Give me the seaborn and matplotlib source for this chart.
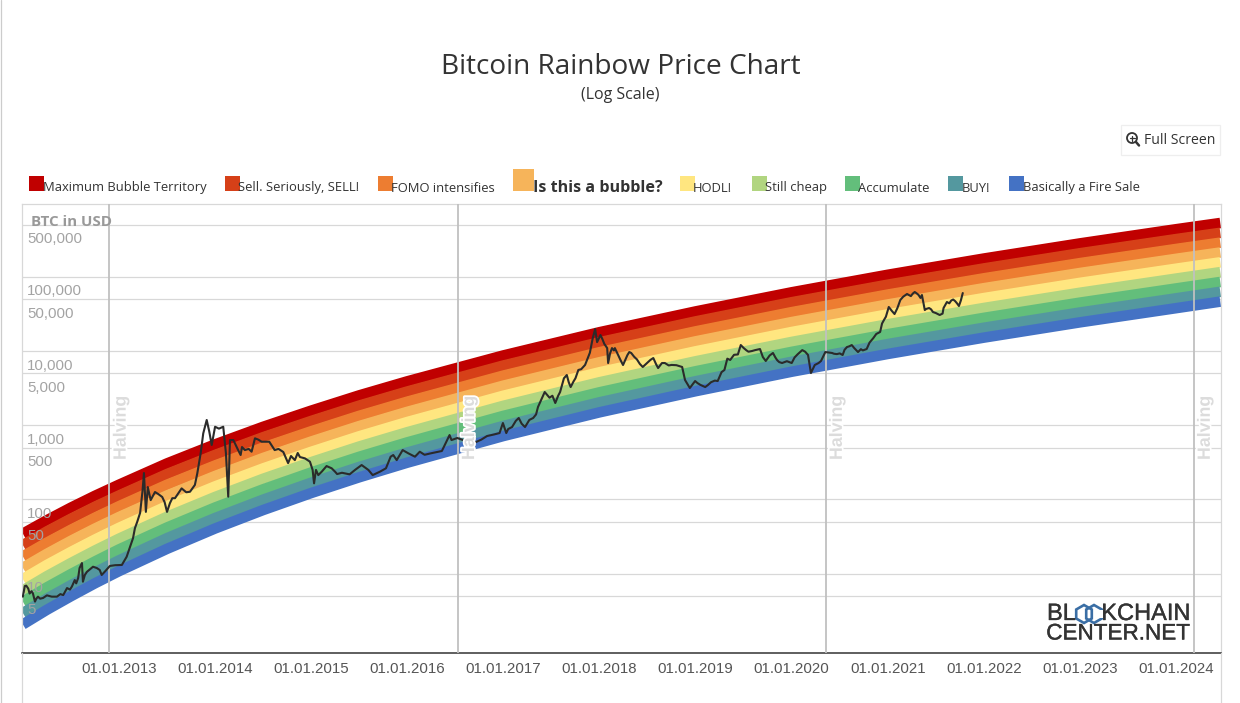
import matplotlib
matplotlib.use('Agg')
import matplotlib.pyplot as plt
from matplotlib.patches import Circle, Rectangle, RegularPolygon
from matplotlib.transforms import ScaledTranslation
import matplotlib.patheffects as pe
import pandas as pd
import seaborn as sns

band_names = ['Maximum Bubble Territory', 'Sell. Seriously, SELL!', 'FOMO intensifies',
              'Is this a bubble?', 'HODL!', 'Still cheap', 'Accumulate', 'BUY!',
              'Basically a Fire Sale']
band_colors = ['#c00000', '#d64018', '#ed7d31', '#f6b45a', '#ffe680',
               '#b1d580', '#63be7b', '#54989f', '#4472c4']

band_years = [2012.0, 2012.25, 2012.5, 2012.75, 2013.0, 2013.5, 2014.0, 2014.5, 2015.0, 2015.5,
              2016.0, 2017.0, 2018.0, 2019.0, 2020.0, 2021.0, 2022.0, 2023.0, 2024.0, 2024.46]
max_bubble = [34.6, 52.5, 77.6, 112, 158, 306, 552, 953, 1574, 2529,
              3908, 8730, 17950, 34200, 61940, 106700, 176600, 282500, 438500, 532100]
sell = [24.3, 37.1, 55.0, 79.8, 113, 220, 398, 690, 1143, 1841,
        2850, 6386, 13150, 25100, 45510, 78480, 129900, 208000, 322800, 392200]
fomo = [17.1, 26.2, 39.0, 56.8, 81.0, 158, 287, 500, 830, 1340,
        2079, 4671, 9640, 18420, 33440, 57720, 95600, 153100, 237700, 289100]
bubble = [12.0, 18.5, 27.7, 40.5, 57.9, 113, 207, 362, 603, 975,
          1516, 3417, 7064, 13510, 24570, 42450, 70340, 112700, 175000, 213100]
hodl = [8.46, 13.1, 19.6, 28.8, 41.4, 81.3, 150, 262, 438, 710,
        1106, 2500, 5177, 9917, 18060, 31220, 51760, 82980, 128800, 157100]
still_cheap = [5.95, 9.25, 13.9, 20.5, 29.6, 58.4, 108, 190, 318, 517,
               806, 1829, 3794, 7277, 13270, 22960, 38080, 61090, 94830, 115800]
accumulate = [4.19, 6.54, 9.86, 14.6, 21.2, 41.9, 77.9, 137, 231, 376,
              588, 1338, 2780, 5340, 9750, 16890, 28020, 44970, 69810, 85350]
buy = [2.95, 4.62, 6.99, 10.4, 15.1, 30.1, 56.2, 99.4, 168, 274,
       429, 979, 2037, 3919, 7165, 12420, 20620, 33110, 51390, 62910]
fire_sale = [2.07, 3.26, 4.96, 7.41, 10.8, 21.6, 40.6, 72.0, 122, 199,
             313, 716, 1493, 2876, 5265, 9137, 15170, 24370, 37840, 46370]

price_years = [
    2012.00, 2012.02, 2012.035, 2012.056, 2012.07, 2012.09, 2012.105, 2012.126, 2012.14, 2012.157,
    2012.18, 2012.21, 2012.25, 2012.30, 2012.355, 2012.39, 2012.42, 2012.46, 2012.49, 2012.51,
    2012.54, 2012.555, 2012.575, 2012.59, 2012.615, 2012.625, 2012.645, 2012.667, 2012.70, 2012.73,
    2012.77, 2012.80, 2012.82, 2012.86, 2012.905, 2012.96, 2013.03, 2013.08, 2013.146, 2013.166,
    2013.19, 2013.22, 2013.245, 2013.26, 2013.28, 2013.30, 2013.33, 2013.375, 2013.41, 2013.45,
    2013.475, 2013.5, 2013.53, 2013.555, 2013.583, 2013.652, 2013.70, 2013.739, 2013.79, 2013.815,
    2013.85, 2013.877, 2013.913, 2013.94, 2013.965, 2014.0, 2014.04, 2014.085, 2014.113, 2014.137,
    2014.155, 2014.19, 2014.24, 2014.266, 2014.28, 2014.31, 2014.35, 2014.38, 2014.415, 2014.45,
    2014.485, 2014.564, 2014.62, 2014.66, 2014.71, 2014.76, 2014.79, 2014.83, 2014.86, 2014.883,
    2014.935, 2014.987, 2015.015, 2015.03, 2015.05, 2015.074, 2015.11, 2015.16, 2015.213, 2015.248,
    2015.27, 2015.32, 2015.40, 2015.456, 2015.525, 2015.595, 2015.64, 2015.716, 2015.778, 2015.827,
    2015.854, 2015.89, 2015.952, 2016.01, 2016.08, 2016.13, 2016.18, 2016.25, 2016.31, 2016.36,
    2016.44, 2016.46, 2016.52, 2016.58, 2016.62, 2016.66, 2016.715, 2016.77, 2016.83, 2016.90,
    2016.96, 2016.995, 2017.03, 2017.09, 2017.16, 2017.225, 2017.27, 2017.31, 2017.36, 2017.43,
    2017.48, 2017.54, 2017.59, 2017.66, 2017.70, 2017.75, 2017.78, 2017.83, 2017.87, 2017.93,
    2017.955, 2017.975, 2018.01, 2018.05, 2018.08, 2018.09, 2018.13, 2018.16, 2018.2, 2018.245,
    2018.29, 2018.33, 2018.39, 2018.45, 2018.5, 2018.56, 2018.61, 2018.65, 2018.68, 2018.75,
    2018.86, 2018.89, 2018.94, 2018.995, 2019.05, 2019.1, 2019.16, 2019.23, 2019.30, 2019.36,
    2019.40, 2019.44, 2019.47, 2019.53, 2019.585, 2019.67, 2019.73, 2019.77, 2019.805, 2019.85,
    2019.90, 2019.95, 2020.0, 2020.06, 2020.11, 2020.17, 2020.20, 2020.24, 2020.305, 2020.35,
    2020.42, 2020.47, 2020.53, 2020.575, 2020.625, 2020.69, 2020.74, 2020.78, 2020.85, 2020.92,
    2020.96, 2021.01, 2021.07, 2021.13, 2021.20, 2021.24, 2021.28, 2021.32, 2021.355, 2021.385,
    2021.43, 2021.47, 2021.54, 2021.58, 2021.615, 2021.66, 2021.70, 2021.74, 2021.78]
price_usd = [
    4.9, 6.8, 6.9, 6.3, 5.4, 5.8, 5.4, 4.2, 4.6, 4.9,
    4.6, 4.7, 5.1, 4.9, 4.9, 5.3, 5.15, 6.4, 6.1, 6.7,
    8.2, 7.4, 8.7, 11.9, 13.9, 7.8, 9.6, 10.6, 11.5, 12.4,
    11.9, 11.2, 9.6, 10.9, 12.7, 13.0, 13.1, 16.9, 30, 41,
    50, 66, 130, 227, 68, 147, 98, 126, 118, 108,
    92, 68, 89, 104, 104, 141, 125, 127, 157, 225,
    419, 778, 1178, 818, 542, 955, 900, 955, 419, 109,
    632, 632, 463, 397, 509, 463, 480, 440, 667, 640,
    600, 600, 463, 480, 436, 309, 385, 339, 423, 373,
    358, 323, 250, 165, 250, 213, 237, 282, 263, 237,
    220, 229, 218, 250, 291, 250, 213, 237, 263, 377,
    397, 339, 463, 419, 377, 440, 400, 420, 436, 450,
    738, 632, 673, 632, 577, 610, 594, 640, 716, 750,
    785, 1072, 785, 946, 1253, 946, 1180, 1253, 1762, 2805,
    2350, 1995, 2805, 4753, 3273, 4300, 5560, 6100, 7586, 15000,
    19800, 13200, 16440, 12500, 10960, 6900, 10960, 10960, 8500, 6486,
    8800, 9420, 7700, 6100, 7000, 8050, 5900, 6900, 6900, 6500,
    6100, 4074, 3177, 3945, 3500, 3273, 3800, 3945, 5560, 7586,
    8900, 9000, 12050, 10200, 10000, 10650, 7350, 8700, 9420, 7500,
    6900, 7300, 6900, 9000, 10300, 8850, 5060, 6490, 7350, 9700,
    9420, 9100, 8850, 11320, 12050, 9700, 10200, 10650, 15000, 18070,
    26200, 39260, 31550, 48750, 58750, 55000, 62500, 57000, 56900, 35700,
    38000, 33570, 30600, 38000, 45800, 48000, 47200, 40460, 60500]

# smaller teeth of the price line, 2017 onwards
teeth_years = [
    2017.05, 2017.13, 2017.19, 2017.34, 2017.40, 2017.51, 2017.57, 2017.63, 2017.68, 2017.73,
    2017.81, 2017.85, 2017.90, 2018.03, 2018.11, 2018.15, 2018.22, 2018.31, 2018.36, 2018.42,
    2018.53, 2018.59, 2018.72, 2018.80, 2019.02, 2019.13, 2019.20, 2019.27, 2019.33, 2019.50,
    2019.55, 2019.62, 2019.70, 2019.83, 2019.87, 2020.03, 2020.14, 2020.28, 2020.44, 2020.50,
    2020.55, 2020.60, 2020.65, 2020.72, 2020.81, 2020.88, 2020.94, 2020.98, 2021.04, 2021.10,
    2021.16, 2021.26, 2021.30, 2021.34, 2021.40, 2021.45, 2021.50, 2021.57, 2021.64, 2021.68,
    2021.72, 2021.76]
teeth_usd = [
    890, 1150, 1050, 1400, 2300, 2500, 2500, 4300, 3800, 3900,
    5700, 6500, 9500, 14500, 9300, 10200, 7500, 9700, 8400, 6700,
    7600, 6600, 6400, 6450, 3700, 3500, 4000, 5200, 7900, 11000,
    9800, 10300, 8300, 8200, 7100, 8200, 9800, 6900, 9200, 9300,
    10400, 11600, 11000, 10600, 13000, 17000, 23500, 29000, 35000, 38000,
    54000, 59500, 60000, 52000, 37000, 36500, 32500, 32000, 44000, 49500,
    44000, 48000]

y_ticks = [5, 10, 50, 100, 500, 1000, 5000, 10000, 50000, 100000, 500000]
y_labels = ['5', '10', '50', '100', '500', '1,000', '5,000', '10,000', '50,000', '100,000', '500,000']
x_ticks = list(range(2013, 2025))
x_labels = ['01.01.%d' % y for y in x_ticks]
halving_years = [2012.90, 2016.525, 2020.352, 2024.181]

sns.set_style('white')
plt.rcParams['font.family'] = ['Liberation Sans', 'DejaVu Sans']

W, H = 1240, 703
fig = plt.figure(figsize=(W / 100, H / 100), dpi=100, facecolor='white')
ax = fig.add_axes([22 / W, 1 - 652.5 / H, (1221 - 22) / W, (652.5 - 203.7) / H])
ax.set_yscale('log')
ax.set_axisbelow(False)

# rainbow bands
rows = []
all_bands = [max_bubble, sell, fomo, bubble, hodl, still_cheap, accumulate, buy, fire_sale]
for name, values in zip(band_names, all_bands):
    rows.append(pd.DataFrame({'year': band_years, 'usd': values, 'band': name}))
rainbow = pd.concat(rows)
sns.lineplot(data=rainbow, x='year', y='usd', hue='band', hue_order=band_names,
             palette=band_colors, estimator=None, sort=False, linewidth=7.6,
             legend=False, ax=ax, solid_capstyle='butt', solid_joinstyle='round')

for v in y_ticks:
    ax.axhline(v, color='#d8d8d8', lw=0.9, zorder=0.5)

for yr in halving_years:
    ax.axvline(yr, color='#c0c0c0', lw=1.3, zorder=3)
    ax.annotate('Halving', xy=(yr, H - 428), xycoords=('data', 'figure pixels'),
                xytext=(8.5, 0), textcoords='offset points', rotation=90,
                ha='center', va='center', fontsize=12.8, fontweight='bold',
                color='#dcdcdc', zorder=5,
                path_effects=[pe.withStroke(linewidth=2.5, foreground='white')])

sns.lineplot(x=price_years + teeth_years, y=price_usd + teeth_usd, color='#2b2b2b',
             linewidth=1.5, estimator=None, ax=ax, zorder=4)

ax.set_xlim(2011.991, 2024.467)
ax.set_ylim(0.866, 968000)
ax.set_xlabel('')
ax.set_ylabel('')
ax.minorticks_off()
ax.set_xticks(x_ticks)
ax.set_xticklabels(x_labels, fontsize=10.8, color='#555555')
ax.set_yticks(y_ticks)
ax.set_yticklabels(y_labels, fontsize=10.8, color='#a3a3a3')
ax.tick_params(axis='x', length=0, pad=6.5)
ax.tick_params(axis='y', length=0, pad=-3.6, which='both')
ax.tick_params(axis='y', which='minor', left=False, labelleft=False)
offset = ScaledTranslation(0, -14.5 / 100, fig.dpi_scale_trans)
for lab in ax.get_yticklabels():
    lab.set_ha('left')
    lab.set_va('center')
    lab.set_transform(lab.get_transform() + offset)
for side in ['top', 'left', 'right']:
    ax.spines[side].set_color('#d8d8d8')
    ax.spines[side].set_linewidth(0.9)
ax.spines['bottom'].set_color('#333333')
ax.spines['bottom'].set_linewidth(1.1)

# everything around the plot, in picture pixels
deco = fig.add_axes([0, 0, 1, 1], zorder=10)
deco.set_xlim(0, W)
deco.set_ylim(H, 0)
deco.axis('off')
deco.patch.set_visible(False)

deco.plot([0.5, 0.5], [0, H], color='#cccccc', lw=0.9)
deco.plot([22, 22], [653, H], color='#d8d8d8', lw=0.9)
deco.plot([1221, 1221], [653, H], color='#d8d8d8', lw=0.9)

deco.text(620.5, 67, 'Bitcoin Rainbow Price Chart', family='Open Sans', fontsize=20.2,
          color='#333333', ha='center', va='center')
deco.text(620, 95, '(Log Scale)', family='Open Sans', fontsize=11.5, color='#333333',
          ha='center', va='center')
deco.text(31, 221.5, 'BTC in USD', family='Open Sans', fontsize=10.9, fontweight='bold',
          color='#999999', va='center')

# legend
swatch_x = [29, 225, 378, 513, 680, 752, 845, 948, 1009]
text_x = [43, 238, 391, 533, 693, 765, 858, 962, 1023]
for i, name in enumerate(band_names):
    big = name == 'Is this a bubble?'
    top = 169 if big else 176
    side = 21 if big else 15
    deco.add_patch(Rectangle((swatch_x[i], top), side, 191 - top, color=band_colors[i], lw=0))
    deco.text(text_x[i], 188, name, family='Open Sans', color='#333333', va='center',
              fontsize=11.6 if big else 9.4, fontweight='bold' if big else 'normal')

# full screen button
deco.add_patch(Rectangle((1120.5, 124.5), 99.5, 30, fc='white', ec='#eeeeee', lw=0.9))
deco.add_patch(Circle((1132, 138), 5, fc='none', ec='#333333', lw=1.3))
deco.plot([1136, 1139], [142, 145.5], color='#333333', lw=1.8)
deco.plot([1129.5, 1134.5], [138, 138], color='#333333', lw=0.9)
deco.plot([1132, 1132], [135.5, 140.5], color='#333333', lw=0.9)
deco.text(1144, 141, 'Full Screen', family='Open Sans', fontsize=10.1, color='#333333',
          va='center')

# logo
logo_stroke = [pe.withStroke(linewidth=0.25, foreground='#333333')]
deco.text(1047, 614, 'BL', fontsize=17, color='#333333', va='center', path_effects=logo_stroke)
deco.text(1190, 614, 'KCHAIN', fontsize=17, color='#333333', va='center', ha='right',
          path_effects=logo_stroke)
deco.text(1190, 634, 'CENTER.NET', fontsize=16.2, color='#333333', va='center', ha='right',
          path_effects=logo_stroke)
deco.add_patch(RegularPolygon((1084, 614), 6, radius=9, fc='none', ec='#3a6ea5', lw=1.9))
deco.add_patch(RegularPolygon((1094, 614), 6, radius=9, fc='none', ec='#3a6ea5', lw=1.9))
deco.add_patch(Rectangle((1099, 610), 5, 8, fc='white', lw=0))

fig.savefig('out.png', dpi=100)
